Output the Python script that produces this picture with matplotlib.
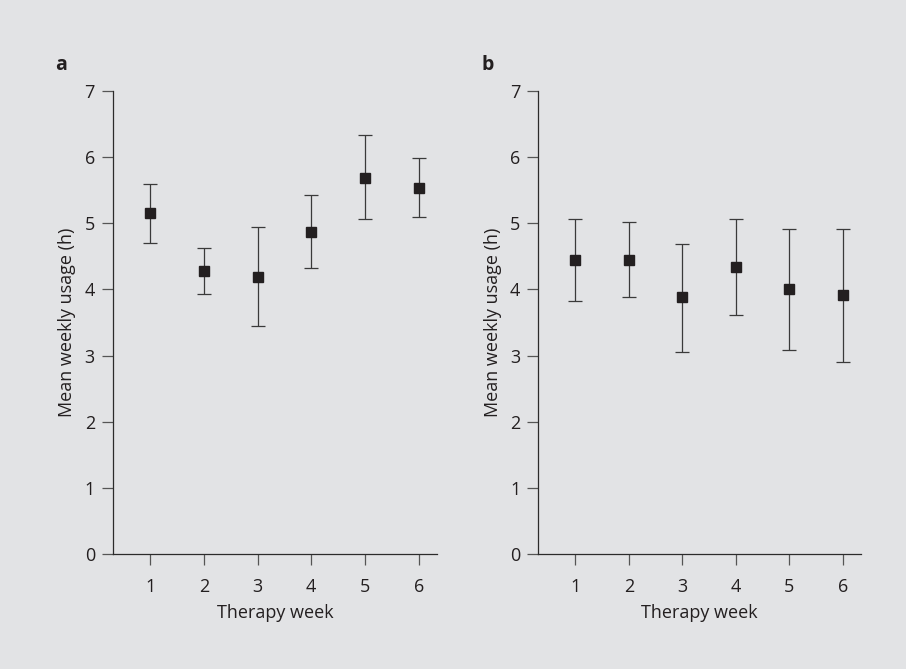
import matplotlib.pyplot as plt
import numpy as np

plt.rcParams['font.family'] = ['Open Sans', 'DejaVu Sans']

weeks = [1, 2, 3, 4, 5, 6]

# panel a
mean_a = [5.16, 4.28, 4.19, 4.87, 5.68, 5.53]
upper_a = [5.60, 4.62, 4.94, 5.43, 6.33, 5.99]
lower_a = [4.71, 3.93, 3.44, 4.32, 5.07, 5.09]

# panel b
mean_b = [4.44, 4.44, 3.88, 4.34, 4.00, 3.91]
upper_b = [5.07, 5.02, 4.69, 5.07, 4.92, 4.92]
lower_b = [3.82, 3.89, 3.06, 3.62, 3.09, 2.90]

bg = '#e2e3e5'
ink = '#231f20'

fig = plt.figure(figsize=(9.06, 6.69), dpi=100, facecolor=bg)
ax_a = fig.add_axes([0.1247, 0.1719, 0.3576, 0.692])
ax_b = fig.add_axes([0.5942, 0.1719, 0.3562, 0.692])

for ax, m, up, lo, lab, lx in [(ax_a, mean_a, upper_a, lower_a, 'a', 55),
                               (ax_b, mean_b, upper_b, lower_b, 'b', 481)]:
    m = np.array(m)
    yerr = [m - np.array(lo), np.array(up) - m]
    ax.errorbar(weeks, m, yerr=yerr, fmt='s', color=ink, ecolor='#3a3a3a',
                elinewidth=0.9, capsize=5, capthick=0.9, markersize=7.5)
    ax.set_facecolor(bg)
    ax.set_xlim(0.31, 6.34)
    ax.set_ylim(0, 7)
    ax.set_xticks(weeks)
    ax.set_yticks(range(0, 8))
    ax.spines['top'].set_visible(False)
    ax.spines['right'].set_visible(False)
    for s in ['left', 'bottom']:
        ax.spines[s].set_linewidth(0.9)
        ax.spines[s].set_color('#2b2b2b')
    ax.tick_params(direction='out', length=8, width=0.9, color='#555555',
                   labelsize=13, labelcolor=ink)
    ax.tick_params(axis='x', pad=9)
    ax.tick_params(axis='y', pad=5)
    ax.set_xlabel('Therapy week', fontsize=13, color=ink, labelpad=6)
    ax.set_ylabel('Mean weekly usage (h)', fontsize=13, color=ink, labelpad=6)
    fig.text(lx / 906, 1 - 65 / 669, lab, fontsize=14, fontweight='bold',
             color=ink, va='center', ha='left')

fig.savefig('out.png', dpi=100, facecolor=bg)
